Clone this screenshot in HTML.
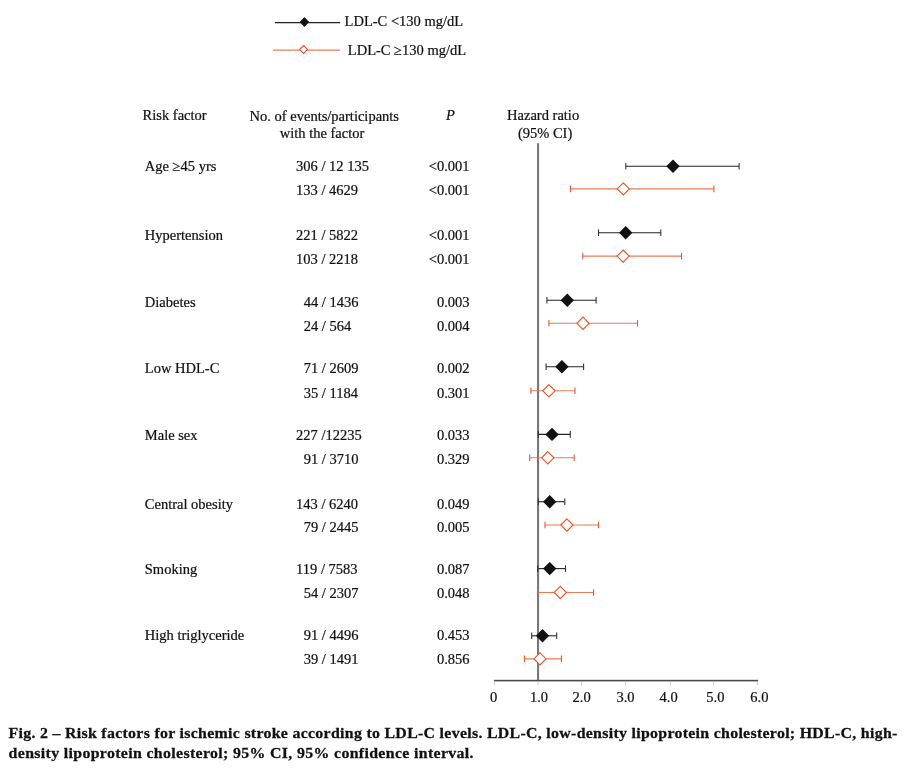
<!DOCTYPE html><html><head><meta charset="utf-8"><style>
html,body{margin:0;padding:0;background:#fff;width:910px;height:768px;overflow:hidden}
svg{display:block}
.t{filter:grayscale(1)}
text{font-family:"Liberation Serif",serif;font-size:14.5px;fill:#111;stroke:#111;stroke-width:0.22px}
text.cap{font-size:15px;font-weight:bold;fill:#111;stroke:#111;stroke-width:0.25px}
</style></head><body>
<svg width="910" height="768" viewBox="0 0 910 768">
<rect width="910" height="768" fill="#fff"/>
<line x1="274.9" y1="22.6" x2="340.2" y2="22.6" stroke="#222" stroke-width="1.3"/>
<path d="M304.4 17 L309.2 22 L304.4 27 L299.6 22 Z" fill="#111"/>
<line x1="272.9" y1="50.2" x2="339.9" y2="50.2" stroke="#ec7a55" stroke-width="1.3"/>
<path d="M303.5 45.5 L307.5 49.5 L303.5 53.5 L299.5 49.5 Z" fill="#fff" stroke="#e8582e" stroke-width="1.1"/>
<rect x="537" y="143.2" width="2.1" height="537" fill="#787878"/>
<rect x="494" y="679.8" width="264.1" height="1.6" fill="#4a4a4a"/>
<rect x="493.9" y="681.4" width="1" height="3.6" fill="#c4c4c4"/>
<rect x="537.5" y="681.4" width="1" height="3.6" fill="#c4c4c4"/>
<rect x="581.1" y="681.4" width="1" height="3.6" fill="#c4c4c4"/>
<rect x="625.1" y="681.4" width="1" height="3.6" fill="#c4c4c4"/>
<rect x="669.9" y="681.4" width="1" height="3.6" fill="#c4c4c4"/>
<rect x="713.1" y="681.4" width="1" height="3.6" fill="#c4c4c4"/>
<rect x="756.9" y="681.4" width="1" height="3.6" fill="#c4c4c4"/>
<line x1="625.8" y1="166.2" x2="739.1" y2="166.2" stroke="#222" stroke-width="1.1"/>
<line x1="625.8" y1="162.89999999999998" x2="625.8" y2="169.5" stroke="#333" stroke-width="1.1"/>
<line x1="739.1" y1="162.89999999999998" x2="739.1" y2="169.5" stroke="#333" stroke-width="1.1"/>
<path d="M673.0 159.5 L679.7 166.2 L673.0 172.89999999999998 L666.3 166.2 Z" fill="#111"/>
<line x1="598.5" y1="232.7" x2="660.8" y2="232.7" stroke="#222" stroke-width="1.1"/>
<line x1="598.5" y1="229.39999999999998" x2="598.5" y2="236.0" stroke="#333" stroke-width="1.1"/>
<line x1="660.8" y1="229.39999999999998" x2="660.8" y2="236.0" stroke="#333" stroke-width="1.1"/>
<path d="M625.7 226.0 L632.4000000000001 232.7 L625.7 239.39999999999998 L619.0 232.7 Z" fill="#111"/>
<line x1="546.9" y1="300.2" x2="596.1" y2="300.2" stroke="#222" stroke-width="1.1"/>
<line x1="546.9" y1="296.9" x2="546.9" y2="303.5" stroke="#333" stroke-width="1.1"/>
<line x1="596.1" y1="296.9" x2="596.1" y2="303.5" stroke="#333" stroke-width="1.1"/>
<path d="M567.3 293.5 L574.0 300.2 L567.3 306.9 L560.5999999999999 300.2 Z" fill="#111"/>
<line x1="546.1" y1="366.7" x2="583.6" y2="366.7" stroke="#222" stroke-width="1.1"/>
<line x1="546.1" y1="363.4" x2="546.1" y2="370.0" stroke="#333" stroke-width="1.1"/>
<line x1="583.6" y1="363.4" x2="583.6" y2="370.0" stroke="#333" stroke-width="1.1"/>
<path d="M561.9 360.0 L568.6 366.7 L561.9 373.4 L555.1999999999999 366.7 Z" fill="#111"/>
<line x1="538.4" y1="434.4" x2="570.3" y2="434.4" stroke="#222" stroke-width="1.1"/>
<line x1="538.4" y1="431.09999999999997" x2="538.4" y2="437.7" stroke="#333" stroke-width="1.1"/>
<line x1="570.3" y1="431.09999999999997" x2="570.3" y2="437.7" stroke="#333" stroke-width="1.1"/>
<path d="M552.0 427.7 L558.7 434.4 L552.0 441.09999999999997 L545.3 434.4 Z" fill="#111"/>
<line x1="538.4" y1="501.7" x2="564.8" y2="501.7" stroke="#222" stroke-width="1.1"/>
<line x1="538.4" y1="498.4" x2="538.4" y2="505.0" stroke="#333" stroke-width="1.1"/>
<line x1="564.8" y1="498.4" x2="564.8" y2="505.0" stroke="#333" stroke-width="1.1"/>
<path d="M549.7 495.0 L556.4000000000001 501.7 L549.7 508.4 L543.0 501.7 Z" fill="#111"/>
<line x1="537.7" y1="568.6" x2="565.5" y2="568.6" stroke="#222" stroke-width="1.1"/>
<line x1="537.7" y1="565.3000000000001" x2="537.7" y2="571.9" stroke="#333" stroke-width="1.1"/>
<line x1="565.5" y1="565.3000000000001" x2="565.5" y2="571.9" stroke="#333" stroke-width="1.1"/>
<path d="M549.7 561.9 L556.4000000000001 568.6 L549.7 575.3000000000001 L543.0 568.6 Z" fill="#111"/>
<line x1="531.7" y1="635.8" x2="556.7" y2="635.8" stroke="#222" stroke-width="1.1"/>
<line x1="531.7" y1="632.5" x2="531.7" y2="639.0999999999999" stroke="#333" stroke-width="1.1"/>
<line x1="556.7" y1="632.5" x2="556.7" y2="639.0999999999999" stroke="#333" stroke-width="1.1"/>
<path d="M542.5 629.0999999999999 L549.2 635.8 L542.5 642.5 L535.8 635.8 Z" fill="#111"/>
<line x1="570.4" y1="188.9" x2="713.9" y2="188.9" stroke="#ec7a55" stroke-width="1.1"/>
<line x1="570.4" y1="185.6" x2="570.4" y2="192.20000000000002" stroke="#e8582e" stroke-width="1.1"/>
<line x1="713.9" y1="185.6" x2="713.9" y2="192.20000000000002" stroke="#e8582e" stroke-width="1.1"/>
<path d="M623.3 182.8 L629.4 188.9 L623.3 195.0 L617.1999999999999 188.9 Z" fill="#fff" stroke="#e8582e" stroke-width="1.2"/>
<line x1="582.8" y1="256.1" x2="681.5" y2="256.1" stroke="#ec7a55" stroke-width="1.1"/>
<line x1="582.8" y1="252.8" x2="582.8" y2="259.40000000000003" stroke="#e8582e" stroke-width="1.1"/>
<line x1="681.5" y1="252.8" x2="681.5" y2="259.40000000000003" stroke="#e8582e" stroke-width="1.1"/>
<path d="M623.1 250.00000000000003 L629.2 256.1 L623.1 262.20000000000005 L617.0 256.1 Z" fill="#fff" stroke="#e8582e" stroke-width="1.2"/>
<line x1="548.9" y1="323.3" x2="637.5" y2="323.3" stroke="#ec7a55" stroke-width="1.1"/>
<line x1="548.9" y1="320.0" x2="548.9" y2="326.6" stroke="#e8582e" stroke-width="1.1"/>
<line x1="637.5" y1="320.0" x2="637.5" y2="326.6" stroke="#e8582e" stroke-width="1.1"/>
<path d="M583.0 317.2 L589.1 323.3 L583.0 329.40000000000003 L576.9 323.3 Z" fill="#fff" stroke="#e8582e" stroke-width="1.2"/>
<line x1="530.9" y1="390.8" x2="575.0" y2="390.8" stroke="#ec7a55" stroke-width="1.1"/>
<line x1="530.9" y1="387.5" x2="530.9" y2="394.1" stroke="#e8582e" stroke-width="1.1"/>
<line x1="575.0" y1="387.5" x2="575.0" y2="394.1" stroke="#e8582e" stroke-width="1.1"/>
<path d="M548.9 384.7 L555.0 390.8 L548.9 396.90000000000003 L542.8 390.8 Z" fill="#fff" stroke="#e8582e" stroke-width="1.2"/>
<line x1="529.7" y1="457.8" x2="574.2" y2="457.8" stroke="#ec7a55" stroke-width="1.1"/>
<line x1="529.7" y1="454.5" x2="529.7" y2="461.1" stroke="#e8582e" stroke-width="1.1"/>
<line x1="574.2" y1="454.5" x2="574.2" y2="461.1" stroke="#e8582e" stroke-width="1.1"/>
<path d="M547.8 451.7 L553.9 457.8 L547.8 463.90000000000003 L541.6999999999999 457.8 Z" fill="#fff" stroke="#e8582e" stroke-width="1.2"/>
<line x1="545.0" y1="525.0" x2="598.4" y2="525.0" stroke="#ec7a55" stroke-width="1.1"/>
<line x1="545.0" y1="521.7" x2="545.0" y2="528.3" stroke="#e8582e" stroke-width="1.1"/>
<line x1="598.4" y1="521.7" x2="598.4" y2="528.3" stroke="#e8582e" stroke-width="1.1"/>
<path d="M566.9 518.9 L573.0 525.0 L566.9 531.1 L560.8 525.0 Z" fill="#fff" stroke="#e8582e" stroke-width="1.2"/>
<line x1="538.1" y1="592.5" x2="593.6" y2="592.5" stroke="#ec7a55" stroke-width="1.1"/>
<line x1="538.1" y1="589.2" x2="538.1" y2="595.8" stroke="#e8582e" stroke-width="1.1"/>
<line x1="593.6" y1="589.2" x2="593.6" y2="595.8" stroke="#e8582e" stroke-width="1.1"/>
<path d="M560.3 586.4 L566.4 592.5 L560.3 598.6 L554.1999999999999 592.5 Z" fill="#fff" stroke="#e8582e" stroke-width="1.2"/>
<line x1="524.4" y1="658.9" x2="561.4" y2="658.9" stroke="#ec7a55" stroke-width="1.1"/>
<line x1="524.4" y1="655.6" x2="524.4" y2="662.1999999999999" stroke="#e8582e" stroke-width="1.1"/>
<line x1="561.4" y1="655.6" x2="561.4" y2="662.1999999999999" stroke="#e8582e" stroke-width="1.1"/>
<path d="M540.0 652.8 L546.1 658.9 L540.0 665.0 L533.9 658.9 Z" fill="#fff" stroke="#e8582e" stroke-width="1.2"/>
<g class="t">
<text x="344.6" y="25.7">LDL-C &lt;130 mg/dL</text>
<text x="347.8" y="55.3">LDL-C ≥130 mg/dL</text>
<text x="142.6" y="119.8">Risk factor</text>
<text x="249.6" y="120.6">No. of events/participants</text>
<text x="279.8" y="138.3">with the factor</text>
<text x="446" y="119.8" font-style="italic">P</text>
<text x="507.1" y="120.2">Hazard ratio</text>
<text x="517.9" y="138.3">(95% CI)</text>
<text x="144.8" y="170.8">Age ≥45 yrs</text>
<text x="296.1" y="170.8">306 / 12 135</text>
<text x="469.6" y="170.8" text-anchor="end">&lt;0.001</text>
<text x="296.1" y="194.7">133 / 4629</text>
<text x="469.6" y="194.7" text-anchor="end">&lt;0.001</text>
<text x="144.8" y="239.8">Hypertension</text>
<text x="296.1" y="239.8">221 / 5822</text>
<text x="469.6" y="239.8" text-anchor="end">&lt;0.001</text>
<text x="296.1" y="263.7">103 / 2218</text>
<text x="469.6" y="263.7" text-anchor="end">&lt;0.001</text>
<text x="144.8" y="306.5">Diabetes</text>
<text x="303.7" y="306.5">44 / 1436</text>
<text x="469.6" y="306.5" text-anchor="end">0.003</text>
<text x="303.7" y="330.7">24 / 564</text>
<text x="469.6" y="330.7" text-anchor="end">0.004</text>
<text x="144.8" y="372.8">Low HDL-C</text>
<text x="303.7" y="372.8">71 / 2609</text>
<text x="469.6" y="372.8" text-anchor="end">0.002</text>
<text x="303.7" y="397.7">35 / 1184</text>
<text x="469.6" y="397.7" text-anchor="end">0.301</text>
<text x="144.8" y="439.8">Male sex</text>
<text x="296.1" y="439.8">227 /12235</text>
<text x="469.6" y="439.8" text-anchor="end">0.033</text>
<text x="303.7" y="463.5">91 / 3710</text>
<text x="469.6" y="463.5" text-anchor="end">0.329</text>
<text x="144.8" y="508.8">Central obesity</text>
<text x="296.1" y="508.8">143 / 6240</text>
<text x="469.6" y="508.8" text-anchor="end">0.049</text>
<text x="303.7" y="532.4">79 / 2445</text>
<text x="469.6" y="532.4" text-anchor="end">0.005</text>
<text x="144.8" y="573.7">Smoking</text>
<text x="296.1" y="573.7">119 / 7583</text>
<text x="469.6" y="573.7" text-anchor="end">0.087</text>
<text x="303.7" y="597.8">54 / 2307</text>
<text x="469.6" y="597.8" text-anchor="end">0.048</text>
<text x="144.8" y="639.8">High triglyceride</text>
<text x="303.7" y="639.8">91 / 4496</text>
<text x="469.6" y="639.8" text-anchor="end">0.453</text>
<text x="303.7" y="663.7">39 / 1491</text>
<text x="469.6" y="663.7" text-anchor="end">0.856</text>
<text x="493.7" y="701.9" text-anchor="middle">0</text>
<text x="539.0" y="701.9" text-anchor="middle">1.0</text>
<text x="581.6" y="701.9" text-anchor="middle">2.0</text>
<text x="625.5" y="701.9" text-anchor="middle">3.0</text>
<text x="668.6" y="701.9" text-anchor="middle">4.0</text>
<text x="715.4" y="701.9" text-anchor="middle">5.0</text>
<text x="759.4" y="701.9" text-anchor="middle">6.0</text>
<text class="cap" x="8.1" y="738" letter-spacing="0.277" transform="scale(1.06,1)">Fig. 2 – Risk factors for ischemic stroke according to LDL-C levels. LDL-C, low-density lipoprotein cholesterol; HDL-C, high-</text>
<text class="cap" x="8.1" y="758.2" letter-spacing="0.315" transform="scale(1.06,1)">density lipoprotein cholesterol; 95% CI, 95% confidence interval.</text>
</g>
</svg></body></html>
